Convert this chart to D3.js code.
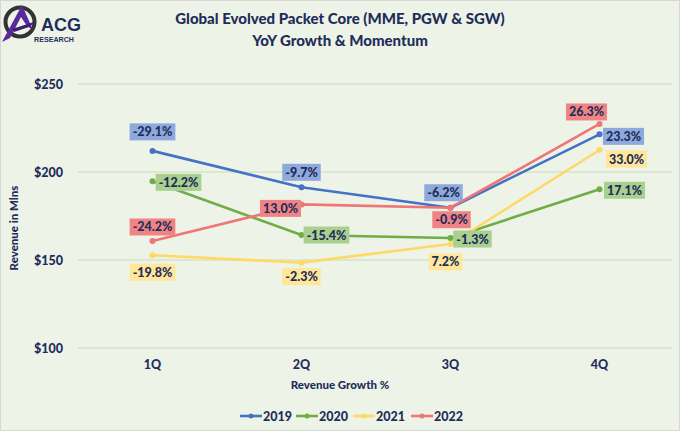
<!DOCTYPE html>
<html>
<head>
<meta charset="utf-8">
<script src="https://cdn.jsdelivr.net/npm/d3@7"></script>
<style>
  body { margin: 0; background: #fff; }
  text { font-family: Lato, "Open Sans", sans-serif; font-weight: 900; fill: #1f2d5a; }
</style>
</head>
<body>
<svg id="chart" width="680" height="431"></svg>
<script>
// chart data
const quarters = ['1Q', '2Q', '3Q', '4Q'];
const years = ['2019', '2020', '2021', '2022'];
const revenue2019 = [212, 191.3, 179.7, 221.4];
const revenue2020 = [194.7, 164.2, 162.5, 190.2];
const revenue2021 = [152.7, 148.5, 159.1, 212.5];
const revenue2022 = [160.8, 181.6, 179.7, 227.3];
const growth2019 = ['-29.1%', '-9.7%', '-6.2%', '23.3%'];
const growth2020 = ['-12.2%', '-15.4%', '-1.3%', '17.1%'];
const growth2021 = ['-19.8%', '-2.3%', '7.2%', '33.0%'];
const growth2022 = ['-24.2%', '13.0%', '-0.9%', '26.3%'];
const yTicks = [100, 150, 200, 250];

const series = [
  { name: years[0], values: revenue2019, labels: growth2019, line: '#4472c4', box: '#8ea9db' },
  { name: years[1], values: revenue2020, labels: growth2020, line: '#70ad47', box: '#a9d08e' },
  { name: years[2], values: revenue2021, labels: growth2021, line: '#ffd966', box: '#ffe699' },
  { name: years[3], values: revenue2022, labels: growth2022, line: '#f07575', box: '#f08484' },
];

// label offsets from the point (layout only)
const labelOffsets = [
  [[0, -19], [0, -15], [-7, -15], [24, 2]],
  [[26, 1], [25, 0], [22, 1], [25, 1]],
  [[0, 17], [0, 14], [-5, 18], [27, 9]],
  [[0, -14], [-21, 4], [1, 12], [-13, -12]],
];

main();

function main () {
  const svg = d3.select('svg#chart');
  const W = 680, H = 431;
  const margin = { left: 78, right: 6, top: 84, bottom: 83 };

  svg.append('rect')
    .attr('x', 0.5).attr('y', 0.5).attr('width', W - 1).attr('height', H - 1)
    .attr('fill', '#eef3e8').attr('stroke', '#d6d9d2');

  const x = d3.scaleBand().domain(quarters).range([margin.left, W - margin.right]);
  const y = d3.scaleLinear().domain([100, 250]).range([H - margin.bottom, margin.top]);

  // grid
  svg.append('g').selectAll('line').data(yTicks).join('line')
    .attr('x1', margin.left).attr('x2', W - margin.right - 2)
    .attr('y1', d => y(d)).attr('y2', d => y(d))
    .attr('stroke', '#d5e3c9').attr('stroke-width', 1.3);

  // y axis labels
  const yAxis = d3.axisLeft(y).tickValues(yTicks).tickSize(0).tickPadding(15)
    .tickFormat(d => '$' + d);
  const gy = svg.append('g').attr('transform', `translate(${margin.left},0)`).call(yAxis);
  gy.select('.domain').remove();
  gy.selectAll('text').style('font-size', '12.5px').style('font-family', 'Lato, sans-serif')
    .attr('fill', '#1f2d5a').attr('font-weight', '900');

  // x axis labels
  const xAxis = d3.axisBottom(x).tickSize(0).tickPadding(12);
  const gx = svg.append('g').attr('transform', `translate(0,${H - margin.bottom})`).call(xAxis);
  gx.select('.domain').remove();
  gx.selectAll('text').style('font-size', '12.5px').style('font-family', 'Lato, sans-serif')
    .attr('fill', '#1f2d5a').attr('font-weight', '900');

  // titles
  svg.append('text').text('Global Evolved Packet Core (MME, PGW & SGW)')
    .attr('x', 340).attr('y', 24).attr('text-anchor', 'middle').style('font-size', '15px');
  svg.append('text').text('YoY Growth & Momentum')
    .attr('x', 340).attr('y', 46).attr('text-anchor', 'middle').style('font-size', '15px');
  svg.append('text').text('Revenue Growth %')
    .attr('x', 340).attr('y', 389).attr('text-anchor', 'middle').style('font-size', '11.5px');
  svg.append('text').text('Revenue in Mlns')
    .attr('transform', 'translate(18,228) rotate(-90)').attr('text-anchor', 'middle')
    .style('font-size', '11.5px');

  // lines
  const line = d3.line().x((d, i) => x(quarters[i]) + x.bandwidth() / 2).y(d => y(d));
  series.forEach(s => {
    svg.append('path').datum(s.values)
      .attr('d', line).attr('fill', 'none')
      .attr('stroke', s.line).attr('stroke-width', 2.6).attr('stroke-linejoin', 'round');
    svg.append('g').selectAll('circle').data(s.values).join('circle')
      .attr('cx', (d, i) => x(quarters[i]) + x.bandwidth() / 2)
      .attr('cy', d => y(d)).attr('r', 3).attr('fill', s.line);
  });

  // data labels
  series.forEach((s, si) => {
    s.values.forEach((v, i) => {
      const cx = x(quarters[i]) + x.bandwidth() / 2 + labelOffsets[si][i][0];
      const cy = y(v) + labelOffsets[si][i][1];
      const g = svg.append('g');
      const t = g.append('text').text(s.labels[i])
        .attr('x', cx).attr('y', cy + 4.5).attr('text-anchor', 'middle')
        .style('font-size', '12.5px');
      const bb = t.node().getBBox();
      g.insert('rect', 'text')
        .attr('x', bb.x - 3).attr('y', cy - 8.5)
        .attr('width', bb.width + 6).attr('height', 17)
        .attr('fill', s.box);
    });
  });

  // legend
  const legendX = [240, 296, 353, 411];
  series.forEach((s, i) => {
    const lg = svg.append('g').attr('transform', `translate(${legendX[i]},416)`);
    lg.append('line').attr('x1', 0).attr('x2', 22).attr('y1', 0).attr('y2', 0)
      .attr('stroke', s.line).attr('stroke-width', 2.6);
    lg.append('circle').attr('cx', 11).attr('cy', 0).attr('r', 2.5).attr('fill', s.line);
    lg.append('text').text(s.name).attr('x', 23).attr('y', 4.5).style('font-size', '12.5px');
  });

  drawLogo(svg);
}

function drawLogo (svg) {
  const g = svg.append('g');
  g.append('circle').attr('cx', 20).attr('cy', 22).attr('r', 14.5)
    .attr('fill', 'none').attr('stroke', '#333').attr('stroke-width', 4);
  g.append('path').attr('d', 'M22,5 L33,30 L27,26 L21,17 L10,38 L2,42 Z')
    .attr('fill', '#5a2a9c');
  g.append('path').attr('d', 'M12,29 L37,21 L29,27 L14,32 Z').attr('fill', '#3f1d78');
  g.append('text').text('ACG').attr('x', 41).attr('y', 31)
    .style('font-size', '18px').style('font-family', '"Liberation Sans", sans-serif')
    .style('font-weight', 'bold').attr('fill', '#444');
  g.append('text').text('RESEARCH').attr('x', 34).attr('y', 41.5)
    .attr('textLength', 40).attr('lengthAdjust', 'spacingAndGlyphs')
    .style('font-size', '8px').style('font-family', '"Liberation Sans", sans-serif')
    .style('font-weight', 'bold').attr('fill', '#555');
}
</script>
</body>
</html>
